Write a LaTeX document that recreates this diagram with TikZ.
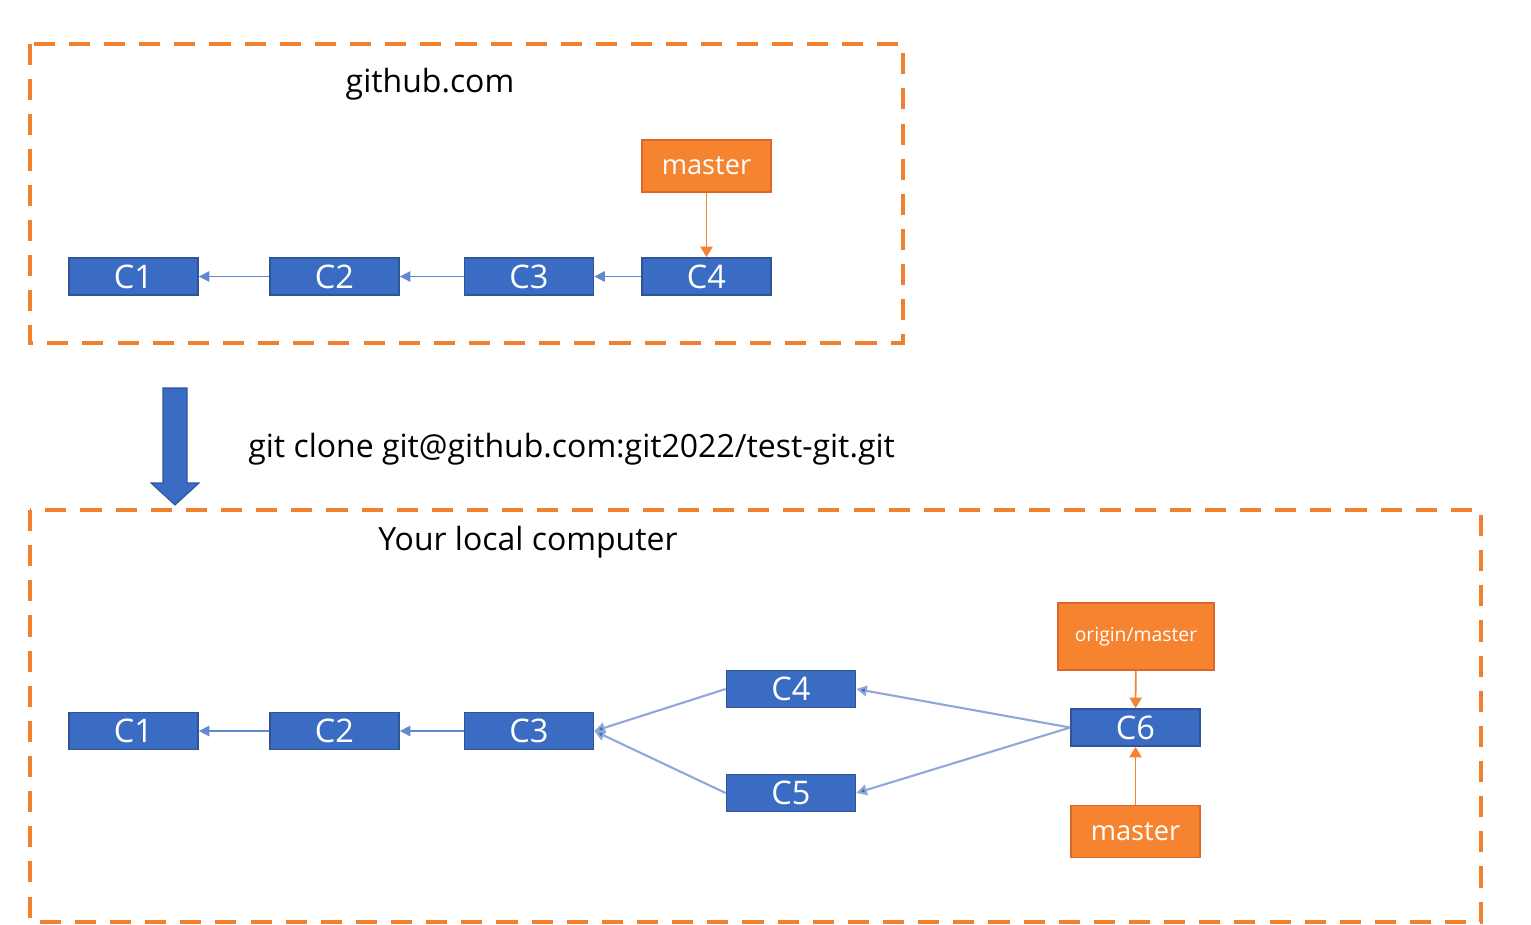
\documentclass[tikz,border=0pt]{standalone}
\usepackage{fontspec}
\setmainfont{Open Sans}
\usetikzlibrary{arrows.meta}
\definecolor{cblue}{HTML}{3A6CC4}
\definecolor{cbluedark}{HTML}{2F5597}
\definecolor{clink}{HTML}{8FA8D8}
\definecolor{corange}{HTML}{F5832F}
\definecolor{corangedark}{HTML}{D9682A}
\definecolor{cdash}{HTML}{F0802E}
\tikzset{
  commit/.style={draw=cbluedark, line width=1pt, fill=cblue, text=white,
    minimum width=2.58cm, minimum height=0.74cm, inner sep=0pt,
    font=\fontsize{18.5}{20}\selectfont},
  branch/.style={draw=corangedark, line width=1pt, fill=corange, text=white,
    minimum width=2.58cm, minimum height=1.04cm, inner sep=0pt,
    font=\fontsize{15.5}{18}\selectfont},
  area/.style={draw=cdash, line width=2.6pt, dash pattern=on 12pt off 8pt},
  chain/.style={draw=cblue!80, line width=0.8pt, -{Triangle[length=6pt,width=6pt]}},
  link/.style={draw=clink, line width=1.2pt, -{Triangle[length=6pt,width=6pt,fill=cblue]}},
  olink/.style={draw=corange, line width=0.9pt, -{Triangle[length=6pt,width=7pt]}},
  label/.style={font=\fontsize{18.2}{20}\selectfont, text=black, inner sep=0pt},
}
\begin{document}
\begin{tikzpicture}[x=0.02cm,y=-0.02cm]
\useasboundingbox (0,0) rectangle (1531,924);
% areas
\draw[area] (30,44) rectangle (903,343);
\draw[area] (30,510) rectangle (1481,922);
% top
\node[label] (gh) at (430,84) {github.com};
\node[commit] (t1) at (133.5,276.5) {C1};
\node[commit] (t2) at (334.5,276.5) {C2};
\node[commit] (t3) at (529,276.5) {C3};
\node[commit] (t4) at (706.5,276.5) {C4};
\node[branch] (tm) at (706.5,166) {master};
\draw[chain] (t2) -- (t1);
\draw[chain] (t3) -- (t2);
\draw[chain] (t4) -- (t3);
\draw[olink] (tm) -- (t4);
% clone arrow
\draw[draw=cbluedark, fill=cblue, line width=0.6pt]
  (163,388) -- (187,388) -- (187,483) -- (199,483) -- (175,505) -- (151,483) -- (163,483) -- cycle;
\node[label, anchor=west] (cmd) at (248,449) {git clone git@github.com:git2022/test-git.git};
% bottom
\node[label] (lc) at (528,542) {Your local computer};
\node[commit] (b1) at (133.5,731) {C1};
\node[commit] (b2) at (334.5,731) {C2};
\node[commit] (b3) at (529,731) {C3};
\node[commit] (b4) at (791,689) {C4};
\node[commit] (b5) at (791,793) {C5};
\node[commit] (b6) at (1135.5,727.5) {C6};
\node[branch, minimum width=3.12cm, minimum height=1.34cm, font=\fontsize{11}{13}\selectfont] (om) at (1136,636.5) {origin/master};
\node[branch] (bm) at (1135.5,831.5) {master};
\draw[chain] (b2) -- (b1);
\draw[chain] (b3) -- (b2);
\draw[link] (b4.west) -- (b3.east);
\draw[link] (b5.west) -- (b3.east);
\draw[link] (b6.west) -- (b4.east);
\draw[link] (b6.west) -- (b5.east);
\draw[olink] (om) -- (b6);
\draw[olink] (bm) -- (b6);
\end{tikzpicture}
\end{document}
